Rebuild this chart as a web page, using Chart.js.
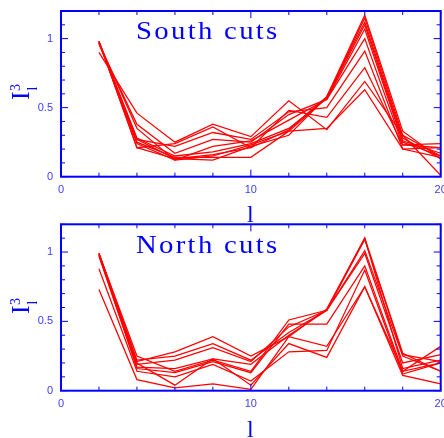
<!DOCTYPE html>
<html>
<head>
<meta charset="utf-8">
<script src="https://cdn.jsdelivr.net/npm/chart.js@4/dist/chart.umd.min.js"></script>
<style>
  html, body { margin: 0; padding: 0; background: #fff; }
  body { width: 444px; height: 438px; position: relative; overflow: hidden; }
  canvas { position: absolute; left: 0; }
  .txt { position: absolute; color: #0000ff; font-family: "Liberation Serif", "DejaVu Serif", serif; line-height: 1; white-space: nowrap; }
  .ttl { transform-origin: 0 0; transform: scaleX(1.15); letter-spacing: 2px; font-size: 25px; }
  .rot { position: absolute; width: 0; height: 0; transform-origin: 0 0; transform: rotate(-90deg); }
  .rot span { position: absolute; color: #0000ff; font-family: "Liberation Serif", serif; line-height: 1; white-space: nowrap; }
</style>
</head>
<body>
<canvas id="south" width="444" height="219" style="top:0px"></canvas>
<canvas id="north" width="444" height="219" style="top:219px"></canvas>

<div class="txt ttl" style="left:136px; top:17.8px;">South cuts</div>
<div class="txt ttl" style="left:136px; top:231.8px;">North cuts</div>

<div class="txt" style="left:247px; top:202.2px; font-size:24px;">l</div>
<div class="txt" style="left:247px; top:416.5px; font-size:24px;">l</div>

<div class="rot" style="left:30px; top:100px;">
  <span style="left:0; top:-21.8px; font-size:26px;">I</span>
  <span style="left:9px; top:-20.7px; font-size:14px;">3</span>
  <span style="left:9.5px; top:-3.7px; font-size:14px;">l</span>
</div>
<div class="rot" style="left:30px; top:314px;">
  <span style="left:0; top:-21.8px; font-size:26px;">I</span>
  <span style="left:9px; top:-20.7px; font-size:14px;">3</span>
  <span style="left:9.5px; top:-3.7px; font-size:14px;">l</span>
</div>

<script>
// multipole index l
const lValues = [2, 4, 6, 8, 10, 12, 14, 16, 18, 20];

// South cuts series
const s1  = [0.98, 0.21, 0.13, 0.12, 0.22, 0.30, 0.58, 1.17, 0.33, 0.13];
const s2  = [0.98, 0.24, 0.12, 0.15, 0.23, 0.33, 0.57, 1.15, 0.30, 0.15];
const s3  = [0.97, 0.27, 0.13, 0.16, 0.21, 0.34, 0.58, 1.12, 0.28, 0.13];
const s4  = [0.98, 0.28, 0.15, 0.18, 0.24, 0.35, 0.57, 1.10, 0.26, 0.17];
const s5  = [0.97, 0.35, 0.12, 0.22, 0.26, 0.41, 0.56, 1.07, 0.25, 0.15];
const s6  = [0.96, 0.38, 0.17, 0.27, 0.25, 0.45, 0.56, 1.00, 0.23, 0.21];
const s7  = [0.97, 0.27, 0.22, 0.32, 0.27, 0.47, 0.50, 0.91, 0.20, 0.14];
const s8  = [0.98, 0.21, 0.24, 0.36, 0.21, 0.48, 0.43, 0.79, 0.23, 0.24];
const s9  = [0.90, 0.46, 0.25, 0.38, 0.29, 0.55, 0.34, 0.69, 0.30, 0.01];
const s10 = [0.97, 0.25, 0.14, 0.14, 0.14, 0.33, 0.35, 0.63, 0.20, 0.21];

// North cuts series
const n1 = [0.99, 0.21, 0.28, 0.39, 0.25, 0.39, 0.59, 1.10, 0.27, 0.14];
const n2 = [0.99, 0.22, 0.25, 0.34, 0.22, 0.42, 0.58, 1.09, 0.26, 0.21];
const n3 = [0.98, 0.19, 0.22, 0.31, 0.21, 0.46, 0.58, 1.01, 0.25, 0.14];
const n4 = [0.97, 0.17, 0.16, 0.23, 0.19, 0.40, 0.58, 0.99, 0.20, 0.26];
const n5 = [0.99, 0.25, 0.14, 0.22, 0.14, 0.51, 0.58, 1.10, 0.16, 0.22];
const n6 = [0.98, 0.16, 0.13, 0.21, 0.13, 0.48, 0.48, 0.90, 0.14, 0.32];
const n7 = [0.88, 0.14, 0.10, 0.19, 0.07, 0.28, 0.29, 0.87, 0.12, 0.20];
const n8 = [0.99, 0.20, 0.04, 0.23, 0.04, 0.34, 0.24, 0.75, 0.11, 0.05];
const n9 = [0.73, 0.08, 0.02, 0.05, 0.01, 0.39, 0.32, 0.75, 0.14, 0.20];

// axis ranges and tick labels
const xMin = 0, xMax = 20, xLabelStep = 10, xMinorStep = 2;
const yMin = 0, yMax = 1.2, yLabelStep = 0.5, yMinorStep = 0.1;

const southList = [s1, s2, s3, s4, s5, s6, s7, s8, s9, s10];
const northList = [n1, n2, n3, n4, n5, n6, n7, n8, n9];

function makeDatasets(list) {
  return list.map(vals => ({
    data: vals.map((v, i) => ({ x: lValues[i], y: v })),
    borderColor: '#ff0000',
    borderWidth: 1.25,
    pointRadius: 0,
    fill: false,
    tension: 0
  }));
}

const framePlugin = {
  id: 'frame',
  afterDatasetsDraw(chart) {
    const { ctx, chartArea: a, scales: { x, y } } = chart;
    ctx.save();
    ctx.strokeStyle = '#0000ff';
    ctx.lineWidth = 1;
    const seg = (x1, y1, x2, y2) => { ctx.beginPath(); ctx.moveTo(x1, y1); ctx.lineTo(x2, y2); ctx.stroke(); };
    const nx = Math.round((xMax - xMin) / xMinorStep);
    for (let i = 0; i <= nx; i++) {
      const v = xMin + i * xMinorStep;
      const px = x.getPixelForValue(v);
      const major = Math.abs(v / xLabelStep - Math.round(v / xLabelStep)) < 1e-6;
      const len = major ? 7 : 4;
      seg(px, a.bottom, px, a.bottom - len);
      seg(px, a.top, px, a.top + len);
    }
    const ny = Math.round((yMax - yMin) / yMinorStep);
    for (let i = 0; i <= ny; i++) {
      const v = yMin + i * yMinorStep;
      const py = y.getPixelForValue(v);
      const major = i % 5 === 0;
      const len = major ? 7 : 4;
      seg(a.left, py, a.left + len, py);
      seg(a.right, py, a.right - len, py);
    }
    ctx.lineWidth = 2;
    ctx.strokeRect(a.left, a.top, a.right - a.left, a.bottom - a.top);
    ctx.restore();
  }
};

function makeChart(id, list, padTop, xHeight) {
  return new Chart(document.getElementById(id), {
    type: 'line',
    data: { datasets: makeDatasets(list) },
    options: {
      responsive: false,
      animation: false,
      devicePixelRatio: 1,
      layout: { autoPadding: false, padding: { top: padTop, left: 0, right: 3.3, bottom: 0 } },
      plugins: { legend: { display: false }, tooltip: { enabled: false } },
      scales: {
        x: {
          type: 'linear', min: xMin, max: xMax,
          grid: { display: false, drawTicks: false }, border: { display: false },
          ticks: { stepSize: xLabelStep, includeBounds: false, padding: 6.5, maxRotation: 0,
                   color: '#3c3cff', font: { family: 'Liberation Sans', size: 11 },
                   callback: v => String(+v.toFixed(2)) },
          afterFit(s) { s.height = xHeight; s.paddingLeft = 0; s.paddingRight = 0; }
        },
        y: {
          type: 'linear', min: yMin, max: yMax,
          grid: { display: false, drawTicks: false }, border: { display: false },
          ticks: { stepSize: yLabelStep, includeBounds: false, padding: 8,
                   color: '#3c3cff', font: { family: 'Liberation Sans', size: 11 },
                   callback: v => String(+v.toFixed(2)) },
          afterFit(s) { s.width = 61; s.paddingTop = 0; s.paddingBottom = 0; }
        }
      }
    },
    plugins: [framePlugin]
  });
}

makeChart('south', southList, 11, 42.3);
makeChart('north', northList, 5.3, 47.3);
</script>
</body>
</html>
